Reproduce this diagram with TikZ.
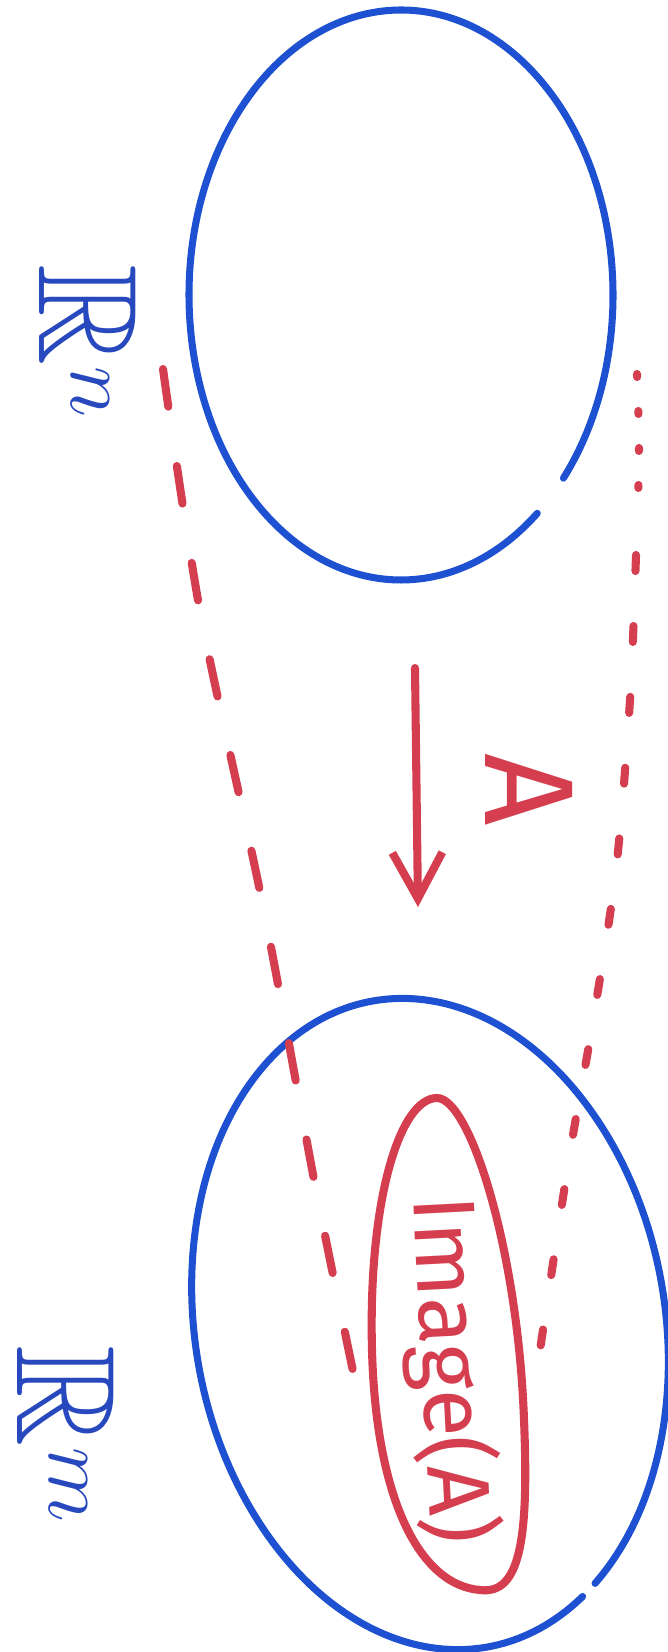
\documentclass[tikz,border=0pt]{standalone}
\usepackage{fontspec}
\setmainfont{Fira Sans}
\usepackage{amssymb}
\usetikzlibrary{arrows.meta}
\definecolor{penblue}{RGB}{30,80,210}
\definecolor{inkblue}{RGB}{40,72,190}
\definecolor{penred}{RGB}{212,62,78}

\begin{document}
\begin{tikzpicture}[line cap=round,line join=round,>={Straight Barb[length=4.6mm,width=5mm]},
  blueline/.style={penblue,line width=2pt},
  redline/.style={penred,line width=2.3pt},
  guide/.style={penred,line width=2.3pt}]
  \useasboundingbox (0,0) rectangle (6.68,-16.52);
  \begin{scope}[shift={(4.01,-2.95)}]
    \draw[blueline] (-40:2.12 and 2.85) arc[start angle=-40,end angle=310,x radius=2.12,y radius=2.85];
  \end{scope}
  \begin{scope}[shift={(4.30,-13.24)},rotate=10]
    \draw[blueline] (-60:2.35 and 3.28) arc[start angle=-60,end angle=296,x radius=2.35,y radius=3.28];
  \end{scope}
  \node[inkblue,rotate=-90,font=\fontsize{40}{40}\selectfont] (Rn) at (0.88,-3.42) {$\mathbb{R}^n$};
  \node[inkblue,rotate=-90,font=\fontsize{40}{40}\selectfont] (Rm) at (0.66,-14.35) {$\mathbb{R}^m$};
  \draw[redline] (4.37,-10.98) .. controls (4.70,-10.98) and (5.18,-12.50) .. (5.24,-14.20)
    .. controls (5.29,-15.40) and (5.20,-15.95) .. (4.80,-15.90)
    .. controls (4.20,-15.85) and (3.76,-15.00) .. (3.72,-13.50)
    .. controls (3.68,-12.00) and (4.00,-10.98) .. cycle;
  \node[penred,rotate=-87,font=\fontsize{25}{25}\selectfont] (imgtxt) at (4.50,-13.70) {Image(A)};
  \coordinate (mapstart) at (4.15,-6.68);
  \coordinate (mapend) at (4.18,-9.07);
  \draw[redline,->] (mapstart) -- (mapend);
  \node[penred,rotate=-90,font=\fontsize{36}{36}\selectfont] (Alab) at (5.29,-7.90) {A};
  \draw[guide,dash pattern=on 0.38cm off 0.6cm] plot[smooth] coordinates {(1.63,-3.69) (2.00,-6.11) (2.63,-9.06) (3.16,-11.90) (3.58,-13.95)};
  \draw[guide,dash pattern=on 0.03cm off 0.34cm] plot[smooth] coordinates {(6.37,-3.74) (6.39,-4.40) (6.38,-5.05)};
  \draw[guide,dash pattern=on 0.16cm off 0.55cm] plot[smooth] coordinates {(6.36,-5.55) (6.30,-7.00) (6.16,-8.70) (5.92,-10.27) (5.69,-11.59) (5.37,-13.70)};
\end{tikzpicture}
\end{document}
